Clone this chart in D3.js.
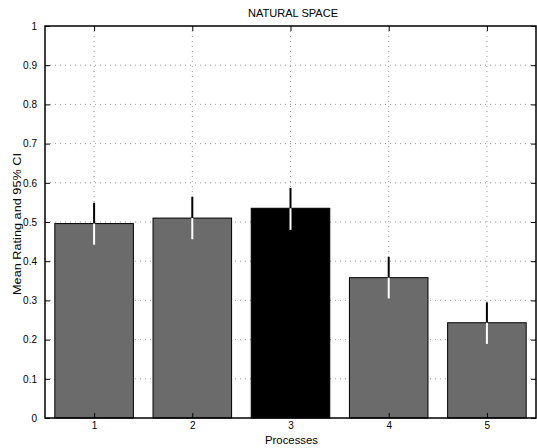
<!DOCTYPE html>
<html>
<head>
<meta charset="utf-8">
<script src="https://cdn.jsdelivr.net/npm/d3@7"></script>
<style>
  body { margin: 0; background: #fff; }
  text { font-family: "Liberation Sans", Arial, sans-serif; font-size: 10px; fill: #000; }
</style>
</head>
<body>
<svg id="chart" width="537" height="448"></svg>
<script>
// data
var processes = [1, 2, 3, 4, 5];
var means = [0.496, 0.510, 0.535, 0.358, 0.243];
var ciLow = [0.442, 0.456, 0.480, 0.305, 0.189];
var ciHigh = [0.549, 0.564, 0.587, 0.411, 0.295];
var yTicks = [0, 0.1, 0.2, 0.3, 0.4, 0.5, 0.6, 0.7, 0.8, 0.9, 1];
var highlight = 3;

var plotLeft = 45, plotRight = 536, plotTop = 26, plotBottom = 418;

var svg = d3.select("#chart");

var x = d3.scaleLinear().domain([0.5, 5.5]).range([plotLeft, plotRight]);
var y = d3.scaleLinear().domain([0, 1]).range([plotBottom, plotTop]);

// grid
svg.append("g").selectAll("line")
  .data(yTicks.slice(1, -1))
  .join("line")
  .attr("x1", plotLeft).attr("x2", plotRight)
  .attr("y1", d => y(d)).attr("y2", d => y(d))
  .attr("stroke", "#999").attr("stroke-width", 1)
  .attr("stroke-dasharray", "1,4");

svg.append("g").selectAll("line")
  .data(processes)
  .join("line")
  .attr("x1", d => x(d)).attr("x2", d => x(d))
  .attr("y1", plotTop).attr("y2", plotBottom)
  .attr("stroke", "#999").attr("stroke-width", 1)
  .attr("stroke-dasharray", "1,4");

// bars
var bw = x(0.8) - x(0);
svg.append("g").selectAll("rect")
  .data(processes)
  .join("rect")
  .attr("x", (d) => x(d) - bw / 2)
  .attr("y", (d, i) => y(means[i]))
  .attr("width", bw)
  .attr("height", (d, i) => y(0) - y(means[i]))
  .attr("fill", d => d == highlight ? "#000" : "#6b6b6b")
  .attr("stroke", "#000").attr("stroke-width", 1);

// error bars: black above the mean, white below
svg.append("g").selectAll("line")
  .data(processes)
  .join("line")
  .attr("x1", d => x(d)).attr("x2", d => x(d))
  .attr("y1", (d, i) => y(means[i]))
  .attr("y2", (d, i) => y(ciHigh[i]))
  .attr("stroke", "#000").attr("stroke-width", 2);

svg.append("g").selectAll("line")
  .data(processes)
  .join("line")
  .attr("x1", d => x(d)).attr("x2", d => x(d))
  .attr("y1", (d, i) => y(means[i]))
  .attr("y2", (d, i) => y(ciLow[i]))
  .attr("stroke", "#fff").attr("stroke-width", 2);

// axes (matlab style box with inner ticks)
svg.append("g")
  .attr("transform", "translate(" + plotLeft + ",0)")
  .call(d3.axisLeft(y).tickValues(yTicks).tickSizeInner(-5).tickSizeOuter(0)
    .tickPadding(8).tickFormat(d3.format("~g")))
  .call(g => g.select(".domain").remove());

svg.append("g")
  .attr("transform", "translate(" + plotRight + ",0)")
  .call(d3.axisRight(y).tickValues(yTicks).tickSizeInner(-5).tickSizeOuter(0).tickFormat(""))
  .call(g => g.select(".domain").remove());

svg.append("g")
  .attr("transform", "translate(0," + plotBottom + ")")
  .call(d3.axisBottom(x).tickValues(processes).tickSizeInner(-5).tickSizeOuter(0)
    .tickPadding(4).tickFormat(d3.format("d")))
  .call(g => g.select(".domain").remove());

svg.append("g")
  .attr("transform", "translate(0," + plotTop + ")")
  .call(d3.axisTop(x).tickValues(processes).tickSizeInner(-5).tickSizeOuter(0).tickFormat(""))
  .call(g => g.select(".domain").remove());

svg.selectAll(".tick text").style("font-size", "10px").attr("fill", "#000");
svg.selectAll(".tick line").attr("stroke", "#000");

svg.append("rect")
  .attr("x", plotLeft).attr("y", plotTop)
  .attr("width", plotRight - plotLeft).attr("height", plotBottom - plotTop)
  .attr("fill", "none").attr("stroke", "#000").attr("stroke-width", 1.5);

// labels
svg.append("text")
  .attr("x", 293).attr("y", 17)
  .attr("text-anchor", "middle")
  .style("font-size", "10.5px")
  .attr("textLength", 90).attr("lengthAdjust", "spacingAndGlyphs")
  .text("NATURAL SPACE");

svg.append("text")
  .attr("x", 291.5).attr("y", 444)
  .attr("text-anchor", "middle")
  .style("font-size", "10.5px")
  .attr("textLength", 53).attr("lengthAdjust", "spacingAndGlyphs")
  .text("Processes");

svg.append("text")
  .attr("transform", "translate(21,224) rotate(-90)")
  .attr("text-anchor", "middle")
  .style("font-size", "10.5px")
  .attr("textLength", 142).attr("lengthAdjust", "spacingAndGlyphs")
  .text("Mean Rating and 95% CI");
</script>
</body>
</html>
